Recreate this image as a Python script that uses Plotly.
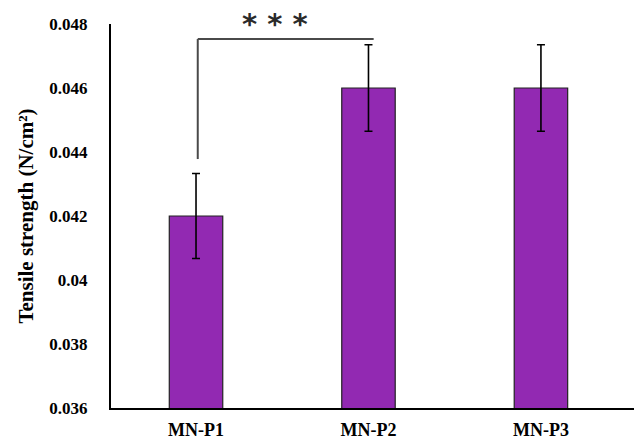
import plotly.graph_objects as go

categories = ["MN-P1", "MN-P2", "MN-P3"]
values = [0.042, 0.046, 0.046]
errors = [0.00133, 0.00135, 0.00135]
y_ticks = [0.036, 0.038, 0.04, 0.042, 0.044, 0.046, 0.048]
y_tick_labels = ["0.036", "0.038", "0.04", "0.042", "0.044", "0.046", "0.048"]
significance = "* * *"

font_family = "Liberation Serif"

fig = go.Figure()
fig.add_trace(go.Bar(
    x=[0, 1, 2], y=values, width=0.31,
    marker=dict(color="#9229B2", line=dict(color="#222222", width=1.2)),
    error_y=dict(type="data", array=errors, visible=True, color="black", thickness=1.6, width=4),
))

# significance bracket
fig.add_shape(type="line", xref="x", yref="y", x0=0.01, x1=0.01, y0=0.04378, y1=0.04753,
              line=dict(color="#4a4a4a", width=2))
fig.add_shape(type="line", xref="x", yref="y", x0=0.01, x1=1.03, y0=0.04753, y1=0.04753,
              line=dict(color="#4a4a4a", width=2))
fig.add_annotation(x=0.46, y=1.0, xref="x", yref="paper", text=significance, showarrow=False,
                   font=dict(family="DejaVu Sans", size=29, color="#2a2a2a", weight="bold"),
                   yanchor="middle", yshift=0)

fig.update_layout(
    width=634, height=433,
    margin=dict(l=103, r=0, t=16, b=33),
    paper_bgcolor="white", plot_bgcolor="white",
    showlegend=False,
    font=dict(family=font_family, color="black"),
)
fig.update_xaxes(
    range=[-0.493, 2.586], tickvals=[0, 1, 2], ticktext=categories,
    showline=True, linecolor="black", linewidth=2, showgrid=False, ticks="",
    tickfont=dict(family=font_family, size=18, color="black", weight="bold"),
    ticklabelstandoff=4, zeroline=False, automargin=False,
)
fig.update_yaxes(
    range=[0.036, 0.048], tickvals=y_ticks, ticktext=y_tick_labels,
    showline=True, linecolor="black", linewidth=2, showgrid=False, ticks="",
    tickfont=dict(family=font_family, size=17, color="black", weight="bold"),
    ticklabelstandoff=18, zeroline=False, automargin=False,
    title=dict(text="Tensile strength (N/cm²)", standoff=10,
               font=dict(family=font_family, size=21, color="black", weight="bold")),
)

fig.write_html("out.html")
